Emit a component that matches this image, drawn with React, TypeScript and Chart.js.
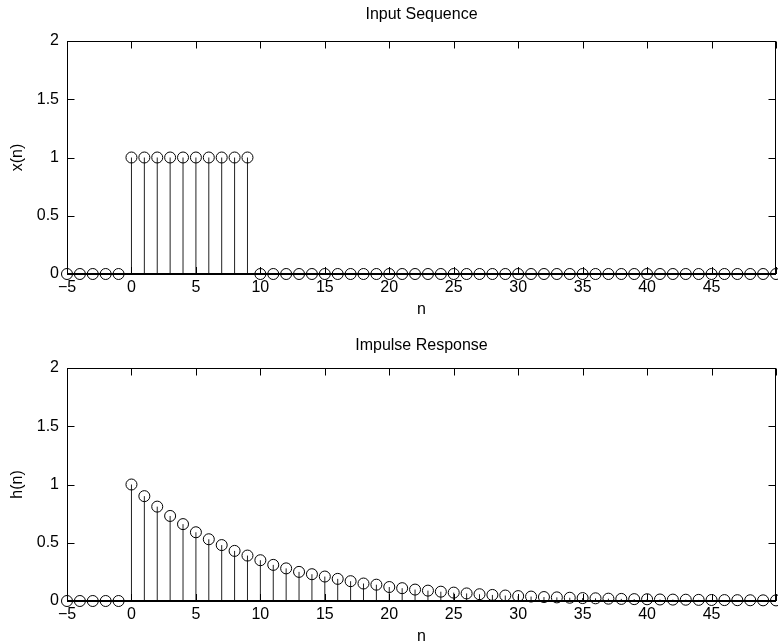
import React, { useEffect, useRef } from 'react';
import { Chart, registerables } from 'chart.js';

Chart.register(...registerables);

// ---------- data ----------
const nValues = [
  -5, -4, -3, -2, -1, 0, 1, 2, 3, 4, 5, 6, 7, 8, 9, 10, 11, 12, 13, 14, 15, 16, 17, 18, 19,
  20, 21, 22, 23, 24, 25, 26, 27, 28, 29, 30, 31, 32, 33, 34, 35, 36, 37, 38, 39, 40, 41, 42,
  43, 44, 45, 46, 47, 48, 49, 50,
];

const inputValues = [
  0, 0, 0, 0, 0, 1, 1, 1, 1, 1, 1, 1, 1, 1, 1, 0, 0, 0, 0, 0, 0, 0, 0, 0, 0,
  0, 0, 0, 0, 0, 0, 0, 0, 0, 0, 0, 0, 0, 0, 0, 0, 0, 0, 0, 0, 0, 0, 0,
  0, 0, 0, 0, 0, 0, 0, 0,
];

const impulseValues = [
  0, 0, 0, 0, 0,
  1.0, 0.9, 0.81, 0.73, 0.66, 0.59, 0.53, 0.48, 0.43, 0.39,
  0.35, 0.31, 0.28, 0.25, 0.23, 0.21, 0.19, 0.17, 0.15, 0.14,
  0.12, 0.11, 0.098, 0.089, 0.08, 0.072, 0.065, 0.058, 0.052, 0.047,
  0.042, 0.038, 0.034, 0.031, 0.028, 0.025, 0.023, 0.02, 0.018, 0.016,
  0.015, 0.013, 0.012, 0.011, 0.0097, 0.0087, 0.0079, 0.0071, 0.0064, 0.0057,
  0.0052,
];

const xMin = -5;
const xMax = 50;
const xStep = 5;
const yMin = 0;
const yMax = 2;
const yStep = 0.5;
const hiddenXTickLabels = [50];

// ---------- layout ----------
const W = 778;
const H = 327;
const AREA_RIGHT = 776;
const AREA_LEFT = 67;
const AREA_TOP = 41;
const AREA_BOTTOM = 274;
const FONT = "'Liberation Sans', Arial, Helvetica, sans-serif";
const FS = 16;
const LH = FS * 1.2;
const TICK_LEN = 7;

const framePlugin = {
  id: 'matlabFrame',
  afterDatasetsDraw(chart: any) {
    const { ctx, chartArea: a, scales } = chart;
    const xs = scales.x;
    const ys = scales.y;
    ctx.save();
    ctx.strokeStyle = '#000';
    ctx.lineWidth = 1;
    const l = Math.round(a.left) + 0.5;
    const r = Math.round(a.right) - 0.5;
    const t = Math.round(a.top) + 0.5;
    const b = Math.round(a.bottom);
    ctx.strokeRect(l, t, r - l, b - t);
    ctx.beginPath();
    for (const tk of xs.ticks) {
      const px = Math.round(xs.getPixelForValue(tk.value)) + 0.5;
      ctx.moveTo(px, b);
      ctx.lineTo(px, b - TICK_LEN);
      ctx.moveTo(px, t);
      ctx.lineTo(px, t + TICK_LEN);
    }
    for (const tk of ys.ticks) {
      const py = Math.round(ys.getPixelForValue(tk.value)) + 0.5;
      ctx.moveTo(l, py);
      ctx.lineTo(l + TICK_LEN, py);
      ctx.moveTo(r, py);
      ctx.lineTo(r - TICK_LEN, py);
    }
    ctx.stroke();
    // stem baseline at y = 0
    const y0 = Math.round(ys.getPixelForValue(0));
    ctx.lineWidth = 2;
    ctx.beginPath();
    ctx.moveTo(l - 0.5, y0);
    ctx.lineTo(r + 0.5, y0);
    ctx.stroke();
    ctx.restore();
  },
};

function StemChart({ title, ylabel, values, titleCenter }: { title: string; ylabel: string; values: number[]; titleCenter: number }) {
  const ref = useRef<HTMLCanvasElement | null>(null);

  useEffect(() => {
    if (!ref.current) return;
    const markers = nValues.map((n, i) => ({ x: n, y: values[i] }));
    const stems = nValues.flatMap((n, i) => [
      { x: n, y: 0 },
      { x: n, y: values[i] },
      { x: n, y: null as any },
    ]);
    const titleTop = titleCenter - LH / 2;
    const chart = new Chart(ref.current, {
      type: 'scatter',
      data: {
        datasets: [
          {
            data: markers,
            showLine: false,
            pointRadius: 5.5,
            pointBorderWidth: 1,
            pointBorderColor: '#000',
            pointBackgroundColor: 'rgba(0,0,0,0)',
            clip: false,
          } as any,
          {
            data: stems,
            showLine: true,
            spanGaps: false,
            borderColor: '#222',
            borderWidth: 1,
            pointRadius: 0,
            clip: false,
          } as any,
        ],
      },
      options: {
        responsive: false,
        animation: false,
        devicePixelRatio: 1,
        events: [],
        layout: { autoPadding: false, padding: { left: 0, right: W - AREA_RIGHT, top: 0, bottom: 0 } },
        plugins: {
          legend: { display: false },
          tooltip: { enabled: false },
          title: {
            display: true,
            text: title,
            fullSize: false,
            color: '#000',
            font: { family: FONT, size: FS, weight: 'normal' },
            padding: { top: titleTop, bottom: AREA_TOP - titleTop - LH },
          },
        },
        scales: {
          x: {
            type: 'linear',
            min: xMin,
            max: xMax,
            grid: { display: false, drawTicks: false },
            border: { display: false },
            afterFit: (s: any) => {
              s.height = H - AREA_BOTTOM;
              s.paddingLeft = 0;
              s.paddingRight = 0;
            },
            ticks: {
              stepSize: xStep,
              autoSkip: false,
              maxRotation: 0,
              padding: 0,
              color: '#000',
              font: { family: FONT, size: FS, lineHeight: 1.75 },
              callback: (v: any) => hiddenXTickLabels.includes(Number(v)) ? '' : String(v).replace('-', '\u2212'),
            },
            title: {
              display: true,
              text: 'n',
              color: '#000',
              font: { family: FONT, size: FS },
              padding: { top: 0, bottom: 7.4 },
            },
          },
          y: {
            type: 'linear',
            min: yMin,
            max: yMax,
            grid: { display: false, drawTicks: false },
            border: { display: false },
            afterFit: (s: any) => { s.width = AREA_LEFT; },
            ticks: {
              stepSize: yStep,
              padding: 8,
              color: '#000',
              font: { family: FONT, size: FS },
              callback: (v: any) => String(Number(v)),
            },
            title: {
              display: true,
              text: ylabel,
              color: '#000',
              font: { family: FONT, size: FS },
              padding: { top: 8.4, bottom: 0 },
            },
          },
        },
      } as any,
      plugins: [framePlugin],
    });
    return () => chart.destroy();
  }, [title, ylabel, values, titleCenter]);

  return <canvas ref={ref} width={W} height={H} style={{ display: 'block', width: W, height: H }} />;
}

export default function App() {
  return (
    <div style={{ position: 'fixed', left: 0, top: 0, width: W, height: 643, overflow: 'hidden', background: '#fff' }}>
      <div style={{ position: 'absolute', left: 0, top: 0 }}>
        <StemChart title="Input Sequence" ylabel="x(n)" values={inputValues} titleCenter={15} />
      </div>
      <div style={{ position: 'absolute', left: 0, top: 327 }}>
        <StemChart title="Impulse Response" ylabel="h(n)" values={impulseValues} titleCenter={19} />
      </div>
    </div>
  );
}
